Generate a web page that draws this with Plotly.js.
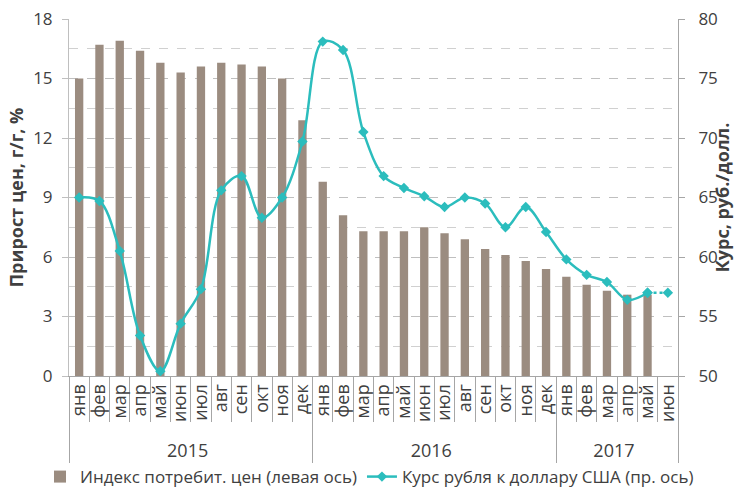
<!DOCTYPE html>
<html>
<head>
<meta charset="utf-8">
<script src="https://cdn.plot.ly/plotly-3.0.1.min.js"></script>
<style>html,body{margin:0;padding:0;background:#fff;}#chart{width:734px;height:489px;}</style>
</head>
<body>
<div id="chart"></div>
<script>
const years = ['2015','2015','2015','2015','2015','2015','2015','2015','2015','2015','2015','2015',
               '2016','2016','2016','2016','2016','2016','2016','2016','2016','2016','2016','2016',
               '2017','2017','2017','2017','2017','2017'];
const months = ['янв','фев','мар','апр','май','июн','июл','авг','сен','окт','ноя','дек',
                'янв','фев','мар','апр','май','июн','июл','авг','сен','окт','ноя','дек',
                'янв','фев','мар','апр','май','июн'];
const cpi = [15.0,16.7,16.9,16.4,15.8,15.3,15.6,15.8,15.7,15.6,15.0,12.9,
             9.8,8.1,7.3,7.3,7.3,7.5,7.2,6.9,6.4,6.1,5.8,5.4,
             5.0,4.6,4.3,4.1,4.1,null];
const usd = [65.0,64.7,60.5,53.4,50.4,54.4,57.3,65.6,66.8,63.3,65.0,69.7,
             78.1,77.4,70.5,66.8,65.8,65.1,64.2,65.0,64.5,62.5,64.2,62.1,
             59.8,58.5,57.9,56.4,57.0,57.0];
const cpiName = 'Индекс потребит. цен (левая ось)';
const usdName = 'Курс рубля к доллару США (пр. ось)';
const leftTitle = 'Прирост цен, г/г, %';
const rightTitle = 'Курс, руб./долл.';

const nActual = 29;
const barColor = '#9b8c80';
const lineColor = '#2bbdbd';
const textColor = '#404040';
const fontFam = '"Open Sans", sans-serif';

const traces = [
  {
    type: 'bar', name: cpiName,
    x: [years, months], y: cpi,
    marker: {color: barColor},
    yaxis: 'y'
  },
  {
    type: 'scatter', mode: 'lines+markers', name: usdName,
    x: [years.slice(0, nActual), months.slice(0, nActual)], y: usd.slice(0, nActual),
    line: {color: lineColor, width: 2.5, shape: 'spline', smoothing: 1},
    marker: {symbol: 'diamond', size: 8, color: lineColor},
    yaxis: 'y2'
  },
  {
    type: 'scatter', mode: 'lines+markers', showlegend: false,
    x: [years.slice(nActual - 1), months.slice(nActual - 1)], y: usd.slice(nActual - 1),
    line: {color: lineColor, width: 2.5, dash: 'dot'},
    marker: {symbol: 'diamond', size: 8, color: lineColor},
    yaxis: 'y2'
  }
];

const layout = {
  width: 734, height: 489,
  margin: {l: 69, r: 56, t: 19, b: 113, autoexpand: false},
  paper_bgcolor: '#fff', plot_bgcolor: '#fff',
  font: {family: fontFam, size: 17, color: textColor},
  bargap: 0.59,
  showlegend: true,
  legend: {orientation: 'h',
           x: -0.0476, xanchor: 'left', y: -0.283, yanchor: 'middle',
           bgcolor: 'rgba(0,0,0,0)',
           font: {size: 17, color: textColor}, itemwidth: 30, tracegroupgap: 0},
  xaxis: {
    type: 'multicategory', automargin: false,
    range: [-0.5, 29.5], tickmode: 'linear', tick0: 0, dtick: 1,
    tickson: 'boundaries', ticks: 'outside', ticklen: 45, tickcolor: '#a6a6a6',
    tickangle: -90,
    showline: true, linecolor: '#a6a6a6',
    showdividers: true, dividercolor: '#a6a6a6', dividerwidth: 1,
    tickfont: {size: 18, color: textColor},
    showgrid: false
  },
  yaxis: {
    automargin: false,
    range: [0, 18], dtick: 3, tick0: 0,
    showline: true, linecolor: '#bfbfbf',
    ticks: 'outside', ticklen: 6, tickcolor: '#bfbfbf', ticklabelstandoff: 6,
    showgrid: true, gridcolor: '#bfbfbf', griddash: 'dash', gridwidth: 1,
    minor: {dtick: 1.5, showgrid: true, gridcolor: '#d0d0d0', griddash: 'dash'},
    zeroline: false,
    tickfont: {size: 17, color: textColor},
    title: {text: leftTitle, font: {size: 18, color: textColor, weight: 'bold'}, standoff: 4}
  },
  yaxis2: {
    automargin: false,
    overlaying: 'y', side: 'right',
    range: [50, 80], dtick: 5,
    showline: true, linecolor: '#a6a6a6',
    ticks: 'outside', ticklen: 6, tickcolor: '#a6a6a6', ticklabelstandoff: 10,
    showgrid: false, zeroline: false,
    tickfont: {size: 17, color: textColor},
    title: {text: rightTitle, font: {size: 18, color: textColor, weight: 'bold'}, standoff: 17}
  }
};

Plotly.newPlot('chart', traces, layout, {staticPlot: true, displayModeBar: false});
</script>
</body>
</html>
